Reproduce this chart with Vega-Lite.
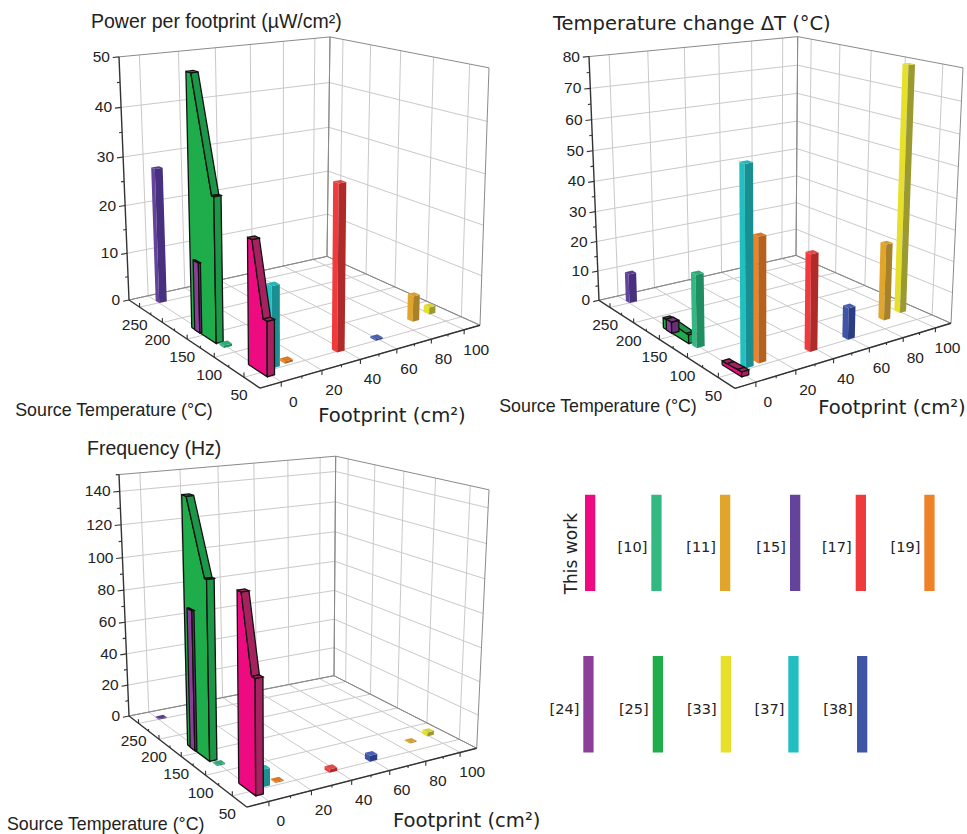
{"$schema":"https://vega.github.io/schema/vega-lite/v6.json","width":967,"height":834,"padding":0,"autosize":{"type":"fit","contains":"padding"},"background":"white","config":{"view":{"stroke":null}},
"params":[{"name":"cam","value":{
"power":{"vmax":50,"L":[129,300.7],"F":[260,389],"R":[480,326],"B":[327,257],"Lt":[119,57],"Ft":[259,103],"Rt":[489,68],"Bt":[330,37],"title":[-28,-35],"src":[-146,23],"foot":[132,28]},
"temperature":{"vmax":80,"L":[599,301],"F":[735,389.3],"R":[951,324],"B":[796,256],"Lt":[589,56.7],"Ft":[733,103],"Rt":[963,68],"Bt":[797.7,36.7],"title":[-36,-33],"src":[-137,19],"foot":[157,20]},
"frequency":{"vmax":150,"L":[129,717.7],"F":[246.7,809],"R":[476.7,750],"B":[334,677.3],"Lt":[119,475.7],"Ft":[245,522],"Rt":[489,491],"Bt":[335.7,457.3],"title":[-32,-26],"src":[-141,18],"foot":[220,14]}}},
{"name":"key","value":{"x":[[585,651.3,720,790,855.7,924.3],[583.3,652.7,720.7,788.3,857]],"y":[496,657.7],"w":10.3,"h":96.5}}],
"datasets":{"legendRows":[{"series":"This work","row":0,"col":0},{"series":"[10]","row":0,"col":1},{"series":"[11]","row":0,"col":2},{"series":"[15]","row":0,"col":3},{"series":"[17]","row":0,"col":4},{"series":"[19]","row":0,"col":5},{"series":"[24]","row":1,"col":0},{"series":"[25]","row":1,"col":1},{"series":"[33]","row":1,"col":2},{"series":"[37]","row":1,"col":3},{"series":"[38]","row":1,"col":4}],
"chartRows":[
{"panel":"power","kind":"axis","axis":"value","tick":10,"role":"grid"},{"panel":"power","kind":"axis","axis":"value","tick":20,"role":"grid"},{"panel":"power","kind":"axis","axis":"value","tick":30,"role":"grid"},{"panel":"power","kind":"axis","axis":"value","tick":40,"role":"grid"},
{"panel":"temperature","kind":"axis","axis":"value","tick":10,"role":"grid"},{"panel":"temperature","kind":"axis","axis":"value","tick":20,"role":"grid"},{"panel":"temperature","kind":"axis","axis":"value","tick":30,"role":"grid"},{"panel":"temperature","kind":"axis","axis":"value","tick":40,"role":"grid"},{"panel":"temperature","kind":"axis","axis":"value","tick":50,"role":"grid"},{"panel":"temperature","kind":"axis","axis":"value","tick":60,"role":"grid"},{"panel":"temperature","kind":"axis","axis":"value","tick":70,"role":"grid"},
{"panel":"frequency","kind":"axis","axis":"value","tick":20,"role":"grid"},{"panel":"frequency","kind":"axis","axis":"value","tick":40,"role":"grid"},{"panel":"frequency","kind":"axis","axis":"value","tick":60,"role":"grid"},{"panel":"frequency","kind":"axis","axis":"value","tick":80,"role":"grid"},{"panel":"frequency","kind":"axis","axis":"value","tick":100,"role":"grid"},{"panel":"frequency","kind":"axis","axis":"value","tick":120,"role":"grid"},{"panel":"frequency","kind":"axis","axis":"value","tick":140,"role":"grid"},
{"panel":"power","kind":"axis","axis":"footprint","tick":0,"role":"grid"},{"panel":"power","kind":"axis","axis":"footprint","tick":20,"role":"grid"},{"panel":"power","kind":"axis","axis":"footprint","tick":40,"role":"grid"},{"panel":"power","kind":"axis","axis":"footprint","tick":60,"role":"grid"},{"panel":"power","kind":"axis","axis":"footprint","tick":80,"role":"grid"},{"panel":"power","kind":"axis","axis":"footprint","tick":100,"role":"grid"},
{"panel":"temperature","kind":"axis","axis":"footprint","tick":0,"role":"grid"},{"panel":"temperature","kind":"axis","axis":"footprint","tick":20,"role":"grid"},{"panel":"temperature","kind":"axis","axis":"footprint","tick":40,"role":"grid"},{"panel":"temperature","kind":"axis","axis":"footprint","tick":60,"role":"grid"},{"panel":"temperature","kind":"axis","axis":"footprint","tick":80,"role":"grid"},{"panel":"temperature","kind":"axis","axis":"footprint","tick":100,"role":"grid"},
{"panel":"frequency","kind":"axis","axis":"footprint","tick":0,"role":"grid"},{"panel":"frequency","kind":"axis","axis":"footprint","tick":20,"role":"grid"},{"panel":"frequency","kind":"axis","axis":"footprint","tick":40,"role":"grid"},{"panel":"frequency","kind":"axis","axis":"footprint","tick":60,"role":"grid"},{"panel":"frequency","kind":"axis","axis":"footprint","tick":80,"role":"grid"},{"panel":"frequency","kind":"axis","axis":"footprint","tick":100,"role":"grid"},
{"panel":"power","kind":"axis","axis":"temperature","tick":50,"role":"grid"},{"panel":"power","kind":"axis","axis":"temperature","tick":100,"role":"grid"},{"panel":"power","kind":"axis","axis":"temperature","tick":150,"role":"grid"},{"panel":"power","kind":"axis","axis":"temperature","tick":200,"role":"grid"},{"panel":"power","kind":"axis","axis":"temperature","tick":250,"role":"grid"},
{"panel":"temperature","kind":"axis","axis":"temperature","tick":50,"role":"grid"},{"panel":"temperature","kind":"axis","axis":"temperature","tick":100,"role":"grid"},{"panel":"temperature","kind":"axis","axis":"temperature","tick":150,"role":"grid"},{"panel":"temperature","kind":"axis","axis":"temperature","tick":200,"role":"grid"},{"panel":"temperature","kind":"axis","axis":"temperature","tick":250,"role":"grid"},
{"panel":"frequency","kind":"axis","axis":"temperature","tick":50,"role":"grid"},{"panel":"frequency","kind":"axis","axis":"temperature","tick":100,"role":"grid"},{"panel":"frequency","kind":"axis","axis":"temperature","tick":150,"role":"grid"},{"panel":"frequency","kind":"axis","axis":"temperature","tick":200,"role":"grid"},{"panel":"frequency","kind":"axis","axis":"temperature","tick":250,"role":"grid"},
{"panel":"power","kind":"axis","axis":"value","tick":0,"role":"edge"},{"panel":"power","kind":"axis","axis":"value","tick":50,"role":"edge"},{"panel":"power","kind":"axis","axis":"footprint","tick":110,"role":"edge"},{"panel":"power","kind":"axis","axis":"temperature","tick":275,"role":"edge"},{"panel":"power","kind":"axis","axis":"temperature","tick":25,"role":"edge"},{"panel":"power","kind":"axis","axis":"temperature","tick":25,"role":"axis"},{"panel":"power","kind":"axis","axis":"footprint","tick":-10,"role":"axis"},
{"panel":"temperature","kind":"axis","axis":"value","tick":0,"role":"edge"},{"panel":"temperature","kind":"axis","axis":"value","tick":80,"role":"edge"},{"panel":"temperature","kind":"axis","axis":"footprint","tick":110,"role":"edge"},{"panel":"temperature","kind":"axis","axis":"temperature","tick":275,"role":"edge"},{"panel":"temperature","kind":"axis","axis":"temperature","tick":25,"role":"edge"},{"panel":"temperature","kind":"axis","axis":"temperature","tick":25,"role":"axis"},{"panel":"temperature","kind":"axis","axis":"footprint","tick":-10,"role":"axis"},
{"panel":"frequency","kind":"axis","axis":"value","tick":0,"role":"edge"},{"panel":"frequency","kind":"axis","axis":"value","tick":150,"role":"edge"},{"panel":"frequency","kind":"axis","axis":"footprint","tick":110,"role":"edge"},{"panel":"frequency","kind":"axis","axis":"temperature","tick":275,"role":"edge"},{"panel":"frequency","kind":"axis","axis":"temperature","tick":25,"role":"edge"},{"panel":"frequency","kind":"axis","axis":"temperature","tick":25,"role":"axis"},{"panel":"frequency","kind":"axis","axis":"footprint","tick":-10,"role":"axis"},
{"panel":"power","kind":"axis","axis":"value","tick":0,"role":"major"},{"panel":"power","kind":"axis","axis":"value","tick":50,"role":"major"},{"panel":"temperature","kind":"axis","axis":"value","tick":0,"role":"major"},{"panel":"temperature","kind":"axis","axis":"value","tick":80,"role":"major"},{"panel":"frequency","kind":"axis","axis":"value","tick":0,"role":"major"},
{"panel":"power","kind":"axis","axis":"value","tick":5,"role":"minor"},{"panel":"power","kind":"axis","axis":"value","tick":15,"role":"minor"},{"panel":"power","kind":"axis","axis":"value","tick":25,"role":"minor"},{"panel":"power","kind":"axis","axis":"value","tick":35,"role":"minor"},{"panel":"power","kind":"axis","axis":"value","tick":45,"role":"minor"},
{"panel":"temperature","kind":"axis","axis":"value","tick":5,"role":"minor"},{"panel":"temperature","kind":"axis","axis":"value","tick":15,"role":"minor"},{"panel":"temperature","kind":"axis","axis":"value","tick":25,"role":"minor"},{"panel":"temperature","kind":"axis","axis":"value","tick":35,"role":"minor"},{"panel":"temperature","kind":"axis","axis":"value","tick":45,"role":"minor"},{"panel":"temperature","kind":"axis","axis":"value","tick":55,"role":"minor"},{"panel":"temperature","kind":"axis","axis":"value","tick":65,"role":"minor"},{"panel":"temperature","kind":"axis","axis":"value","tick":75,"role":"minor"},
{"panel":"frequency","kind":"axis","axis":"value","tick":10,"role":"minor"},{"panel":"frequency","kind":"axis","axis":"value","tick":30,"role":"minor"},{"panel":"frequency","kind":"axis","axis":"value","tick":50,"role":"minor"},{"panel":"frequency","kind":"axis","axis":"value","tick":70,"role":"minor"},{"panel":"frequency","kind":"axis","axis":"value","tick":90,"role":"minor"},{"panel":"frequency","kind":"axis","axis":"value","tick":110,"role":"minor"},{"panel":"frequency","kind":"axis","axis":"value","tick":130,"role":"minor"},{"panel":"frequency","kind":"axis","axis":"value","tick":150,"role":"minor"},
{"panel":"power","kind":"axis","axis":"footprint","tick":10,"role":"minor"},{"panel":"power","kind":"axis","axis":"footprint","tick":30,"role":"minor"},{"panel":"power","kind":"axis","axis":"footprint","tick":50,"role":"minor"},{"panel":"power","kind":"axis","axis":"footprint","tick":70,"role":"minor"},{"panel":"power","kind":"axis","axis":"footprint","tick":90,"role":"minor"},
{"panel":"temperature","kind":"axis","axis":"footprint","tick":10,"role":"minor"},{"panel":"temperature","kind":"axis","axis":"footprint","tick":30,"role":"minor"},{"panel":"temperature","kind":"axis","axis":"footprint","tick":50,"role":"minor"},{"panel":"temperature","kind":"axis","axis":"footprint","tick":70,"role":"minor"},{"panel":"temperature","kind":"axis","axis":"footprint","tick":90,"role":"minor"},
{"panel":"frequency","kind":"axis","axis":"footprint","tick":10,"role":"minor"},{"panel":"frequency","kind":"axis","axis":"footprint","tick":30,"role":"minor"},{"panel":"frequency","kind":"axis","axis":"footprint","tick":50,"role":"minor"},{"panel":"frequency","kind":"axis","axis":"footprint","tick":70,"role":"minor"},{"panel":"frequency","kind":"axis","axis":"footprint","tick":90,"role":"minor"},
{"panel":"power","kind":"axis","axis":"temperature","tick":75,"role":"minor"},{"panel":"power","kind":"axis","axis":"temperature","tick":125,"role":"minor"},{"panel":"power","kind":"axis","axis":"temperature","tick":175,"role":"minor"},{"panel":"power","kind":"axis","axis":"temperature","tick":225,"role":"minor"},
{"panel":"temperature","kind":"axis","axis":"temperature","tick":75,"role":"minor"},{"panel":"temperature","kind":"axis","axis":"temperature","tick":125,"role":"minor"},{"panel":"temperature","kind":"axis","axis":"temperature","tick":175,"role":"minor"},{"panel":"temperature","kind":"axis","axis":"temperature","tick":225,"role":"minor"},
{"panel":"frequency","kind":"axis","axis":"temperature","tick":75,"role":"minor"},{"panel":"frequency","kind":"axis","axis":"temperature","tick":125,"role":"minor"},{"panel":"frequency","kind":"axis","axis":"temperature","tick":175,"role":"minor"},{"panel":"frequency","kind":"axis","axis":"temperature","tick":225,"role":"minor"},
{"panel":"power","kind":"bar","series":"[15]","footprint":0,"footprintEnd":4,"temperature":257.5,"temperatureEnd":249.5,"value":28,"valueEnd":28},
{"panel":"power","kind":"bar","series":"[25]","footprint":-2,"footprintEnd":1.5,"temperature":172.5,"plateauEnd":163.5,"shoulderStart":130,"temperatureEnd":126,"value":50,"valueEnd":28.4},
{"panel":"power","kind":"bar","series":"[24]","footprint":-2.2,"footprintEnd":-1.2,"temperature":166,"temperatureEnd":156,"value":14,"valueEnd":14},
{"panel":"power","kind":"bar","series":"[10]","footprint":-1.7,"footprintEnd":2.3,"temperature":121,"temperatureEnd":113,"value":0.5,"valueEnd":0.5},
{"panel":"power","kind":"bar","series":"[37]","footprint":3.9,"footprintEnd":7.9,"temperature":60,"temperatureEnd":52,"value":15.4,"valueEnd":15.4},
{"panel":"power","kind":"bar","series":"This work","footprint":-2,"footprintEnd":1.5,"temperature":70,"plateauEnd":63,"shoulderStart":46,"temperatureEnd":40,"value":23.8,"valueEnd":10.3},
{"panel":"power","kind":"bar","series":"[19]","footprint":11,"footprintEnd":15,"temperature":62,"temperatureEnd":54,"value":0.4,"valueEnd":0.4},
{"panel":"power","kind":"bar","series":"[17]","footprint":36,"footprintEnd":40,"temperature":56,"temperatureEnd":48,"value":32,"valueEnd":32},
{"panel":"power","kind":"bar","series":"[38]","footprint":58,"footprintEnd":62,"temperature":58,"temperatureEnd":50,"value":0.3,"valueEnd":0.3},
{"panel":"power","kind":"bar","series":"[11]","footprint":86.4,"footprintEnd":90.4,"temperature":74,"temperatureEnd":66,"value":5.2,"valueEnd":5.2},
{"panel":"power","kind":"bar","series":"[33]","footprint":99,"footprintEnd":103,"temperature":79.4,"temperatureEnd":71.4,"value":1.5,"valueEnd":1.5},
{"panel":"temperature","kind":"bar","series":"[15]","footprint":0,"footprintEnd":4,"temperature":257.5,"temperatureEnd":249.5,"value":9.8,"valueEnd":9.8},
{"panel":"temperature","kind":"bar","series":"[25]","footprint":-2,"footprintEnd":1.5,"temperature":172.5,"plateauEnd":163.5,"shoulderStart":130,"temperatureEnd":126,"value":3.3,"valueEnd":2.8},
{"panel":"temperature","kind":"bar","series":"[24]","footprint":-2.2,"footprintEnd":1.5,"temperature":166,"temperatureEnd":156,"value":3.6,"valueEnd":3.6},
{"panel":"temperature","kind":"bar","series":"[10]","footprint":-1.7,"footprintEnd":2.3,"temperature":121,"temperatureEnd":113,"value":22.8,"valueEnd":22.8},
{"panel":"temperature","kind":"bar","series":"[19]","footprint":11,"footprintEnd":15,"temperature":62,"temperatureEnd":54,"value":38,"valueEnd":38},
{"panel":"temperature","kind":"bar","series":"[37]","footprint":3.9,"footprintEnd":7.9,"temperature":60,"temperatureEnd":52,"value":60,"valueEnd":60},
{"panel":"temperature","kind":"bar","series":"This work","footprint":-2,"footprintEnd":1.5,"temperature":70,"plateauEnd":63,"shoulderStart":46,"temperatureEnd":40,"value":1.2,"valueEnd":1.5},
{"panel":"temperature","kind":"bar","series":"[17]","footprint":36,"footprintEnd":40,"temperature":56,"temperatureEnd":48,"value":30,"valueEnd":30},
{"panel":"temperature","kind":"bar","series":"[38]","footprint":58,"footprintEnd":62,"temperature":58,"temperatureEnd":50,"value":10,"valueEnd":10},
{"panel":"temperature","kind":"bar","series":"[11]","footprint":86.4,"footprintEnd":90.4,"temperature":74,"temperatureEnd":66,"value":24.8,"valueEnd":24.8},
{"panel":"temperature","kind":"bar","series":"[33]","footprint":99,"footprintEnd":103,"temperature":79.4,"temperatureEnd":71.4,"value":79.5,"valueEnd":79.5},
{"panel":"frequency","kind":"bar","series":"[15]","footprint":0,"footprintEnd":4,"temperature":257.5,"temperatureEnd":249.5,"value":0.5,"valueEnd":0.5},
{"panel":"frequency","kind":"bar","series":"[25]","footprint":-2,"footprintEnd":1.5,"temperature":172.5,"plateauEnd":163.5,"shoulderStart":130,"temperatureEnd":126,"value":147,"valueEnd":105},
{"panel":"frequency","kind":"bar","series":"[24]","footprint":-2.2,"footprintEnd":-1.2,"temperature":166,"temperatureEnd":156,"value":83,"valueEnd":83},
{"panel":"frequency","kind":"bar","series":"[10]","footprint":-1.7,"footprintEnd":2.3,"temperature":121,"temperatureEnd":113,"value":0.7,"valueEnd":0.7},
{"panel":"frequency","kind":"bar","series":"[37]","footprint":3.9,"footprintEnd":7.9,"temperature":60,"temperatureEnd":52,"value":10,"valueEnd":10},
{"panel":"frequency","kind":"bar","series":"This work","footprint":-2,"footprintEnd":1.5,"temperature":70,"plateauEnd":63,"shoulderStart":46,"temperatureEnd":40,"value":107,"valueEnd":64.5},
{"panel":"frequency","kind":"bar","series":"[19]","footprint":11,"footprintEnd":15,"temperature":62,"temperatureEnd":54,"value":0.5,"valueEnd":0.5},
{"panel":"frequency","kind":"bar","series":"[17]","footprint":36,"footprintEnd":40,"temperature":56,"temperatureEnd":48,"value":2,"valueEnd":2},
{"panel":"frequency","kind":"bar","series":"[38]","footprint":58,"footprintEnd":62,"temperature":58,"temperatureEnd":50,"value":3.5,"valueEnd":3.5},
{"panel":"frequency","kind":"bar","series":"[11]","footprint":86.4,"footprintEnd":90.4,"temperature":74,"temperatureEnd":66,"value":0.6,"valueEnd":0.6},
{"panel":"frequency","kind":"bar","series":"[33]","footprint":99,"footprintEnd":103,"temperature":79.4,"temperatureEnd":71.4,"value":2.5,"valueEnd":2.5},
{"panel":"power","kind":"note","role":"title","label":"Power per footprint (µW/cm²)"},{"panel":"power","kind":"note","role":"src","label":"Source Temperature (°C)"},{"panel":"power","kind":"note","role":"foot","label":"Footprint (cm²)"},
{"panel":"temperature","kind":"note","role":"title","label":"Temperature change ΔT (°C)"},{"panel":"temperature","kind":"note","role":"src","label":"Source Temperature (°C)"},{"panel":"temperature","kind":"note","role":"foot","label":"Footprint (cm²)"},
{"panel":"frequency","kind":"note","role":"title","label":"Frequency (Hz)"},{"panel":"frequency","kind":"note","role":"src","label":"Source Temperature (°C)"},{"panel":"frequency","kind":"note","role":"foot","label":"Footprint (cm²)"}
]},
"layer":[
{"data":{"name":"chartRows"},
"transform":[
{"calculate":"cam[datum.panel]","as":"C"},
{"calculate":"datum.plateauEnd||datum.temperature","as":"tb"},
{"calculate":"datum.shoulderStart||datum.temperatureEnd","as":"tc"},
{"calculate":"datum.kind=='bar' ? [[datum.footprint,datum.temperature,0,0,0],[datum.footprint,datum.temperature,datum.value,0,1],[datum.footprint,datum.tb,datum.value,0,2],[datum.footprint,datum.tc,datum.valueEnd,0,3],[datum.footprint,datum.temperatureEnd,datum.valueEnd,0,4],[datum.footprint,datum.temperatureEnd,0,0,5],[datum.footprint,datum.temperature,0,0,6],[datum.footprint,datum.temperatureEnd,0,1,0],[datum.footprint,datum.temperatureEnd,datum.valueEnd,1,1],[datum.footprintEnd,datum.temperatureEnd,datum.valueEnd,1,2],[datum.footprintEnd,datum.temperatureEnd,0,1,3],[datum.footprint,datum.temperatureEnd,0,1,4],[datum.footprint,datum.tb,datum.value,2,0],[datum.footprintEnd,datum.tb,datum.value,2,1],[datum.footprintEnd,datum.tc,datum.valueEnd,2,2],[datum.footprint,datum.tc,datum.valueEnd,2,3],[datum.footprint,datum.tb,datum.value,2,4],[datum.footprint,datum.temperature,datum.value,3,0],[datum.footprintEnd,datum.temperature,datum.value,3,1],[datum.footprintEnd,datum.tb,datum.value,3,2],[datum.footprint,datum.tb,datum.value,3,3],[datum.footprint,datum.temperature,datum.value,3,4],[datum.footprint,datum.tc,datum.valueEnd,4,0],[datum.footprintEnd,datum.tc,datum.valueEnd,4,1],[datum.footprintEnd,datum.temperatureEnd,datum.valueEnd,4,2],[datum.footprint,datum.temperatureEnd,datum.valueEnd,4,3],[datum.footprint,datum.tc,datum.valueEnd,4,4]] : datum.kind=='note' ? (datum.role=='title' ? [[-10,275,datum.C.vmax,3,0]] : [[-10,25,0,3,0]]) : datum.axis=='value' ? [[-10,275,datum.tick,0,0],[110,275,datum.tick,0,1],[110,25,datum.tick,0,2],[-10,275,datum.tick,1,0],[datum.role=='minor'?-11.5:-13,275,datum.tick,1,1],[-10,275,datum.tick,2,0]] : datum.axis=='footprint' ? [[datum.tick,25,0,0,0],[datum.tick,275,0,0,1],[datum.tick,275,datum.C.vmax,0,2],[datum.tick,25,0,1,0],[datum.tick,25,(datum.role=='minor'?-0.009:-0.018)*datum.C.vmax,1,1],[datum.tick,25,0,2,0]] : [[-10,datum.tick,0,0,0],[110,datum.tick,0,0,1],[110,datum.tick,datum.C.vmax,0,2],[-10,datum.tick,0,1,0],[-10,datum.tick,(datum.role=='minor'?0.009:0.018)*datum.C.vmax,1,1],[-10,datum.tick,0,2,0]]","as":"verts"},
{"flatten":["verts"],"as":["vert"]},
{"calculate":"datum.vert[3]","as":"face"},
{"calculate":"datum.vert[4]","as":"idx"},
{"calculate":"(datum.vert[0]+10)/120","as":"a0"},
{"calculate":"(275-datum.vert[1])/250","as":"b0"},
{"calculate":"datum.vert[2]/datum.C.vmax","as":"c0"},
{"calculate":"datum.a0/(datum.a0+0.85*(1-datum.a0))","as":"A"},
{"calculate":"datum.b0/(datum.b0+1.25*(1-datum.b0))","as":"B"},
{"calculate":"datum.c0/(datum.c0+1.05*(1-datum.c0))","as":"Z"},
{"calculate":"(1-datum.Z)*((1-datum.A)*(1-datum.B)*datum.C.L[0]+(1-datum.A)*datum.B*datum.C.F[0]+datum.A*datum.B*datum.C.R[0]+datum.A*(1-datum.B)*datum.C.B[0])+datum.Z*((1-datum.A)*(1-datum.B)*datum.C.Lt[0]+(1-datum.A)*datum.B*datum.C.Ft[0]+datum.A*datum.B*datum.C.Rt[0]+datum.A*(1-datum.B)*datum.C.Bt[0])","as":"px"},
{"calculate":"(1-datum.Z)*((1-datum.A)*(1-datum.B)*datum.C.L[1]+(1-datum.A)*datum.B*datum.C.F[1]+datum.A*datum.B*datum.C.R[1]+datum.A*(1-datum.B)*datum.C.B[1])+datum.Z*((1-datum.A)*(1-datum.B)*datum.C.Lt[1]+(1-datum.A)*datum.B*datum.C.Ft[1]+datum.A*datum.B*datum.C.Rt[1]+datum.A*(1-datum.B)*datum.C.Bt[1])","as":"py"},
{"calculate":"datum.kind=='note' ? datum.px+datum.C[datum.role][0] : datum.px","as":"lx"},
{"calculate":"datum.kind=='note' ? datum.py+datum.C[datum.role][1] : datum.py","as":"ly"},
{"calculate":"datum.kind=='bar' ? (indexof(['This work','[25]','[24]'],datum.series)>=0 ? 'outline' : 'none') : datum.role","as":"styleRole"},
{"calculate":"datum.series+'|'+(datum.face>=3 ? 2 : datum.face)","as":"shade"},
{"calculate":"datum.panel+'|'+datum.kind+'|'+(datum.series||datum.axis)+'|'+datum.tick+'|'+datum.role+'|'+datum.face","as":"poly"}
],
"encoding":{"x":{"field":"px","type":"quantitative","scale":{"domain":[0,967],"nice":false,"zero":false},"axis":null},"y":{"field":"py","type":"quantitative","scale":{"domain":[0,834],"reverse":true,"nice":false,"zero":false},"axis":null}},
"layer":[
{"transform":[{"filter":"datum.kind=='axis' && datum.face==0 && indexof(['grid','edge','axis'],datum.role)>=0 && !(datum.axis=='temperature' && datum.role=='axis' && datum.idx==2)"}],
"mark":{"type":"line","interpolate":"linear"},
"encoding":{"detail":{"field":"poly"},"order":{"field":"idx","type":"quantitative"},
"stroke":{"field":"styleRole","type":"nominal","scale":{"domain":["grid","edge","axis","outline","none"],"range":["#cbc8c8","#8a8a8a","#333333","#111111","transparent"]},"legend":null},
"strokeWidth":{"field":"styleRole","type":"ordinal","scale":{"type":"ordinal","domain":["grid","edge","axis","outline","none"],"range":[1,1,1.4,1.3,0]},"legend":null}}},
{"transform":[{"filter":"datum.kind=='axis' && datum.face==1 && indexof(['grid','major','minor'],datum.role)>=0"}],
"mark":{"type":"line","color":"#333333","strokeWidth":1.1},
"encoding":{"detail":{"field":"poly"},"order":{"field":"idx","type":"quantitative"}}},
{"transform":[{"filter":"datum.kind=='bar'"}],
"mark":{"type":"line","filled":true,"strokeJoin":"miter"},
"encoding":{"detail":{"field":"poly"},"order":{"field":"idx","type":"quantitative"},
"fill":{"field":"shade","type":"nominal","legend":null,"scale":{"domain":["This work|0","This work|1","This work|2","[10]|0","[10]|1","[10]|2","[11]|0","[11]|1","[11]|2","[15]|0","[15]|1","[15]|2","[17]|0","[17]|1","[17]|2","[19]|0","[19]|1","[19]|2","[24]|0","[24]|1","[24]|2","[25]|0","[25]|1","[25]|2","[33]|0","[33]|1","[33]|2","[37]|0","[37]|1","[37]|2","[38]|0","[38]|1","[38]|2"],"range":["#ee0a80","#a6225f","#a6225f","#34b882","#1f8f62","#30a878","#e2a52c","#a88228","#d6a030","#64449a","#46307f","#5a3d90","#ef3b3e","#b02a2a","#e04a4a","#ee8228","#b5621e","#d87828","#8c3f98","#6a2f75","#7d3888","#1fad4b","#1c9647","#1c9647","#e6e02c","#9a9a30","#d8d438","#22bfc0","#1a8f92","#26b5b8","#3f55a5","#2b3d85","#4a60b0"]}},
"stroke":{"field":"styleRole","type":"nominal","scale":{"domain":["grid","edge","axis","outline","none"],"range":["#cbc8c8","#8a8a8a","#333333","#111111","transparent"]},"legend":null},
"strokeWidth":{"field":"styleRole","type":"ordinal","scale":{"type":"ordinal","domain":["grid","edge","axis","outline","none"],"range":[1,1,1.4,1.3,0]},"legend":null}}},
{"transform":[{"filter":"datum.kind=='axis' && datum.face==2 && (datum.role=='grid'||datum.role=='major') && datum.axis=='value'"}],
"mark":{"type":"text","align":"right","baseline":"middle","dx":-9,"font":"Liberation Sans","fontSize":15.5,"color":"#222222"},"encoding":{"text":{"field":"tick","type":"quantitative"}}},
{"transform":[{"filter":"datum.kind=='axis' && datum.face==2 && datum.role=='grid' && datum.axis=='footprint'"}],
"mark":{"type":"text","align":"center","baseline":"middle","dx":12,"dy":20,"font":"Liberation Sans","fontSize":15.5,"color":"#222222"},"encoding":{"text":{"field":"tick","type":"quantitative"}}},
{"transform":[{"filter":"datum.kind=='axis' && datum.face==2 && datum.role=='grid' && datum.axis=='temperature'"}],
"mark":{"type":"text","align":"center","baseline":"middle","dx":-5,"dy":18,"font":"Liberation Sans","fontSize":15.5,"color":"#222222"},"encoding":{"text":{"field":"tick","type":"quantitative"}}},
{"transform":[{"filter":"datum.kind=='note' && datum.role=='title' && datum.panel!='temperature'"}],
"mark":{"type":"text","align":"left","baseline":"middle","font":"Liberation Sans","fontSize":19.5,"color":"#222222"},"encoding":{"x":{"field":"lx","type":"quantitative"},"y":{"field":"ly","type":"quantitative"},"text":{"field":"label"}}},
{"transform":[{"filter":"datum.kind=='note' && datum.role=='title' && datum.panel=='temperature'"}],
"mark":{"type":"text","align":"left","baseline":"middle","font":"DejaVu Sans","fontSize":19.5,"color":"#222222"},"encoding":{"x":{"field":"lx","type":"quantitative"},"y":{"field":"ly","type":"quantitative"},"text":{"field":"label"}}},
{"transform":[{"filter":"datum.kind=='note' && datum.role=='src'"}],
"mark":{"type":"text","align":"center","baseline":"middle","font":"Liberation Sans","fontSize":17.8,"color":"#222222"},"encoding":{"x":{"field":"lx","type":"quantitative"},"y":{"field":"ly","type":"quantitative"},"text":{"field":"label"}}},
{"transform":[{"filter":"datum.kind=='note' && datum.role=='foot'"}],
"mark":{"type":"text","align":"center","baseline":"middle","font":"DejaVu Sans","fontSize":19.6,"color":"#222222"},"encoding":{"x":{"field":"lx","type":"quantitative"},"y":{"field":"ly","type":"quantitative"},"text":{"field":"label"}}}
]},
{"data":{"name":"legendRows"},
"transform":[
{"calculate":"key.x[datum.row][datum.col]","as":"x0"},
{"calculate":"datum.x0+key.w","as":"x1"},
{"calculate":"key.y[datum.row]","as":"y0"},
{"calculate":"datum.y0+key.h","as":"y1"},
{"calculate":"datum.series+'|0'","as":"shade"},
{"calculate":"datum.series=='This work' ? datum.x0-13.5 : datum.x0-4","as":"tx"},
{"calculate":"datum.series=='This work' ? datum.y0+59 : datum.y0+key.h/2+5.5","as":"ty"}
],
"layer":[
{"mark":{"type":"rect"},
"encoding":{"x":{"field":"x0","type":"quantitative","axis":null},"x2":{"field":"x1"},"y":{"field":"y0","type":"quantitative","axis":null},"y2":{"field":"y1"},
"fill":{"field":"shade","type":"nominal","legend":null}}},
{"transform":[{"filter":"datum.series!='This work'"}],
"mark":{"type":"text","align":"right","baseline":"middle","font":"DejaVu Sans","fontSize":14.5,"color":"#222222"},
"encoding":{"x":{"field":"tx","type":"quantitative","axis":null},"y":{"field":"ty","type":"quantitative","axis":null},"text":{"field":"series"}}},
{"transform":[{"filter":"datum.series=='This work'"}],
"mark":{"type":"text","align":"center","baseline":"middle","angle":270,"font":"DejaVu Sans","fontSize":17,"color":"#222222"},
"encoding":{"x":{"field":"tx","type":"quantitative","axis":null},"y":{"field":"ty","type":"quantitative","axis":null},"text":{"field":"series"}}}
]}
]}
